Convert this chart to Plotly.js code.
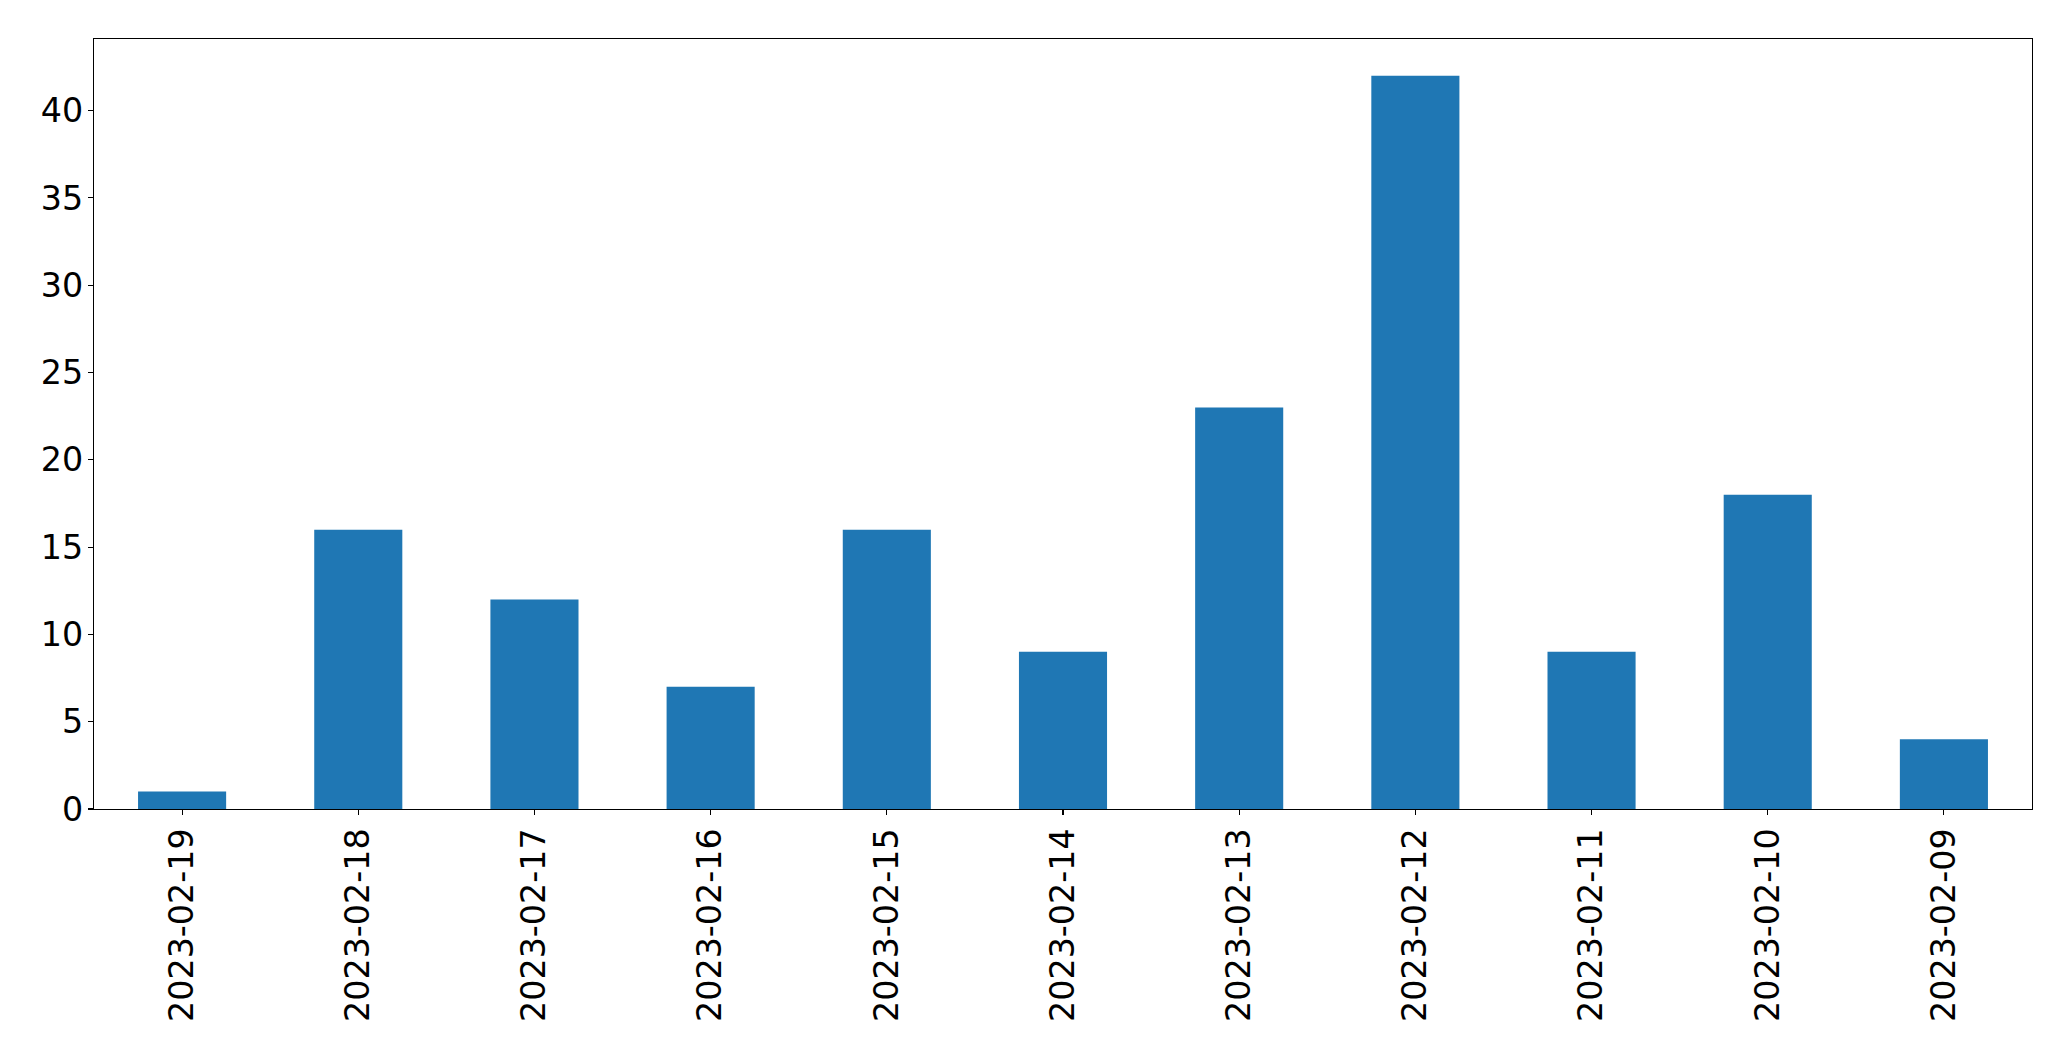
<!DOCTYPE html>
<html>
<head>
<meta charset="utf-8">
<script src="https://cdn.plot.ly/plotly-3.0.1.min.js"></script>
<style>html,body{margin:0;padding:0;background:#fff;}#chart{width:2071px;height:1061px;}</style>
</head>
<body>
<div id="chart"></div>
<script>
const dates = ["2023-02-19","2023-02-18","2023-02-17","2023-02-16","2023-02-15","2023-02-14","2023-02-13","2023-02-12","2023-02-11","2023-02-10","2023-02-09"];
const counts = [1, 16, 12, 7, 16, 9, 23, 42, 9, 18, 4];
const yTicks = [0, 5, 10, 15, 20, 25, 30, 35, 40];

const trace = {
  type: "bar",
  x: dates,
  y: counts,
  width: 0.5,
  marker: {color: "#1f77b4", line: {width: 0}},
  hoverinfo: "x+y"
};

const font = {family: "DejaVu Sans, sans-serif", size: 33.3, color: "#000"};

const layout = {
  width: 2071,
  height: 1061,
  margin: {l: 94, r: 39, t: 39, b: 252, pad: 0},
  paper_bgcolor: "#fff",
  plot_bgcolor: "#fff",
  font: font,
  showlegend: false,
  bargap: 0.5,
  xaxis: {
    type: "category",
    range: [-0.5, 10.5],
    tickangle: -90,
    ticks: "outside",
    ticklen: 5,
    tickwidth: 1.1,
    tickcolor: "#000",
    showline: true,
    linecolor: "#000",
    linewidth: 1.1,
    mirror: true,
    showgrid: false,
    zeroline: false,
    tickfont: font
  },
  yaxis: {
    range: [0, 44.1],
    tickvals: yTicks,
    ticktext: yTicks.map(String),
    ticks: "outside",
    ticklen: 5,
    tickwidth: 1.1,
    tickcolor: "#000",
    ticklabelstandoff: -2,
    showline: true,
    linecolor: "#000",
    linewidth: 1.1,
    mirror: true,
    showgrid: false,
    zeroline: false,
    tickfont: font
  }
};

Plotly.newPlot("chart", [trace], layout, {displayModeBar: false, staticPlot: true});
</script>
</body>
</html>
